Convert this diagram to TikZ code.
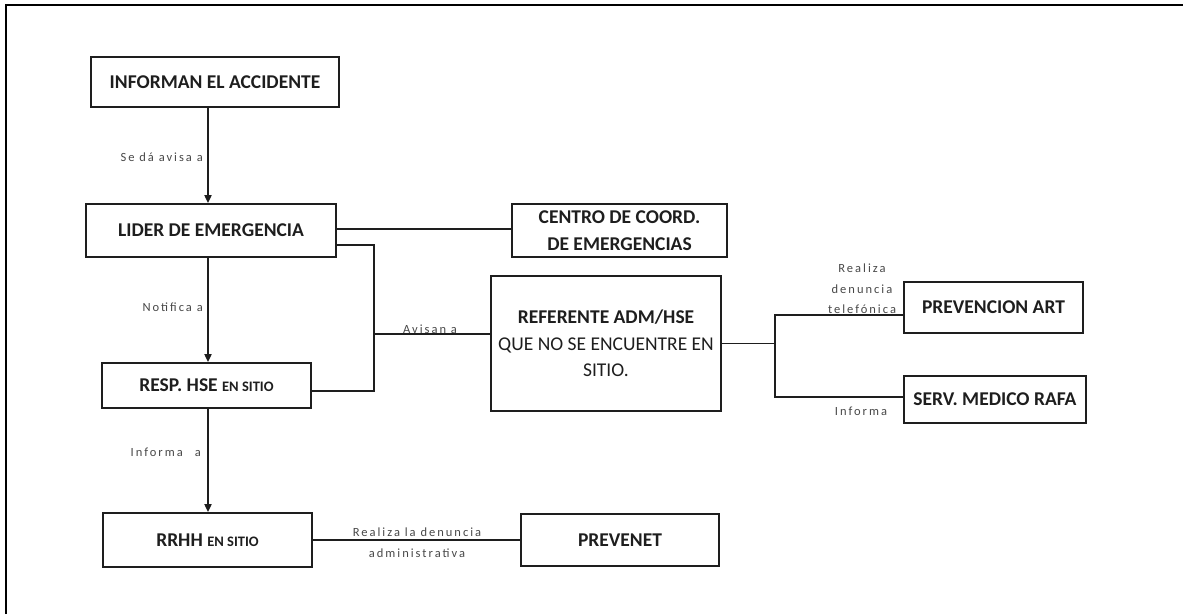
\documentclass[tikz,border=0pt]{standalone}
\usepackage{fontspec}
\setmainfont{Carlito}
\newfontfamily\lblfamily[LetterSpace=16]{Carlito}
\usetikzlibrary{arrows.meta}
\definecolor{ink}{HTML}{1E1E1E}
\definecolor{lblgray}{HTML}{474747}

\begin{document}
\begin{tikzpicture}[x=1pt,y=-1pt,
  box/.style={draw=ink, line width=1.7pt, inner sep=0pt, align=center, text=ink,
              font=\fontsize{19.5}{26.5}\selectfont\bfseries},
  link/.style={draw=ink, line width=1.7pt},
  arr/.style={link, -{Triangle[length=8pt,width=7pt]}},
  lbl/.style={inner sep=0pt, text=lblgray, align=center,
              font=\lblfamily\fontsize{12.5}{20.5}\selectfont}]
\useasboundingbox (0,0) rectangle (1183,614);

% page frame (top and left edges)
\draw[line width=1.7pt] (6,614) -- (6,5) -- (1183,5);

% boxes
\node[box, minimum width=248pt, minimum height=50pt] (inf) at (215,82) {INFORMAN EL ACCIDENTE};
\node[box, minimum width=250pt, minimum height=53pt] (lid) at (211,230.5) {LIDER DE EMERGENCIA};
\node[box, minimum width=215pt, minimum height=53pt] (cen) at (619.5,230.5) {CENTRO DE COORD.\\DE EMERGENCIAS};
\node[box, minimum width=230pt, minimum height=135pt] (ref) at (606,343.5)
  {REFERENTE ADM/HSE\\{\mdseries QUE NO SE ENCUENTRE EN}\\{\mdseries SITIO.}};
\node[box, minimum width=179pt, minimum height=51pt] (pre) at (993.5,307.5) {PREVENCION ART};
\node[box, minimum width=182pt, minimum height=47pt] (ser) at (995,399.5) {SERV. MEDICO RAFA};
\node[box, minimum width=209pt, minimum height=45pt] (hse) at (206.5,385.5) {RESP. HSE {\fontsize{14.5}{16}\selectfont EN SITIO}};
\node[box, minimum width=209pt, minimum height=54pt] (rrhh) at (207.5,540) {RRHH {\fontsize{14.5}{16}\selectfont EN SITIO}};
\node[box, minimum width=198pt, minimum height=52pt] (pvn) at (620,540) {PREVENET};

% guide columns
\coordinate (spine) at (208,0);
\coordinate (bus) at (374,0);
\coordinate (fork) at (775,0);

% main vertical chain
\draw[arr] (inf.south -| spine) -- (lid.north -| spine);
\draw[arr] (lid.south -| spine) -- (hse.north -| spine);
\draw[arr] (hse.south -| spine) -- (rrhh.north -| spine);

% lider -> centro de coordinacion
\coordinate (l1) at ([yshift=1.5pt]lid.east);
\draw[link] (l1) -- (l1 -| cen.west);

% lider / resp. hse bracket towards referente
\coordinate (l2) at ([yshift=-14.5pt]lid.east);
\coordinate (h2) at ([yshift=-5.5pt]hse.east);
\draw[link] (l2) -| (bus |- h2) -- (h2);
\coordinate (r1) at ([yshift=9.5pt]ref.west);
\draw[link] (bus |- r1) -- (r1);

% referente fork
\coordinate (p1) at ([yshift=-7.5pt]pre.west);
\coordinate (s1) at ([yshift=2.5pt]ser.west);
\draw[link] (ref.east) -- (fork |- ref.east);
\draw[link] (p1) -| (fork |- s1) -- (s1);

% rrhh -> prevenet
\draw[link] (rrhh.east) -- (pvn.west);

% connector labels
\node[lbl, anchor=east] (t1) at (203,157) {Se dá avisa a};
\node[lbl, anchor=east] (t2) at (203,307) {Notifica a};
\node[lbl, anchor=east] (t3) at (201,452) {Informa\hspace{12pt}a};
\node[lbl, anchor=base] (t4) at (430,333) {Avisan a};
\node[lbl] (t5) at (862,289) {Realiza\\denuncia\\telefónica};
\node[lbl] (t6) at (861,411) {Informa};
\node[lbl] (t7) at (417,542.5) {Realiza la denuncia\\administrativa};
\end{tikzpicture}
\end{document}
